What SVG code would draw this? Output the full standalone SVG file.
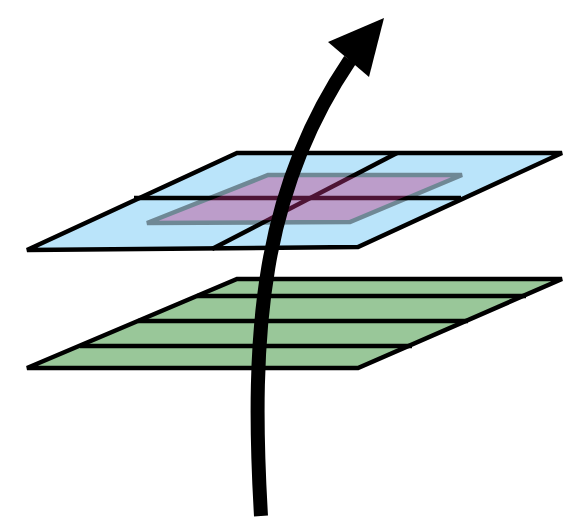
<svg xmlns="http://www.w3.org/2000/svg" width="565" height="520" viewBox="0 0 565 520">
<style>
.edge{stroke:#000;stroke-width:4.5;stroke-linejoin:miter;fill:none}
</style>
<rect width="565" height="520" fill="#fff"/>
<g id="top-plane">
<polygon points="237,153 562,153 358,247 27,250" fill="#bae4fa"/>
<line class="edge" x1="134" y1="198" x2="461" y2="198"/>
<line class="edge" x1="397" y1="153" x2="212" y2="249"/>
<polygon class="edge" points="237,153 562,153 358,247 27,250"/>
</g>
<g id="inner-region" opacity="0.4">
<polygon points="268,175 462,175 350,222 147,223" fill="#c03484" stroke="#000" stroke-width="4.5"/>
</g>
<g id="bottom-plane">
<polygon points="237,279 562,279 358,368 27,368" fill="#99c799"/>
<line class="edge" x1="197" y1="296" x2="526" y2="296"/>
<line class="edge" x1="138" y1="321" x2="468" y2="321"/>
<line class="edge" x1="80" y1="346" x2="412" y2="346"/>
<polygon class="edge" points="237,279 562,279 358,368 27,368"/>
</g>
<g id="connectors">
<path d="M261,516 C250,330 262,190 350,60" fill="none" stroke="#000" stroke-width="14"/>
<polygon points="384,18 328,42 369,77" fill="#000"/>
</g>
</svg>
